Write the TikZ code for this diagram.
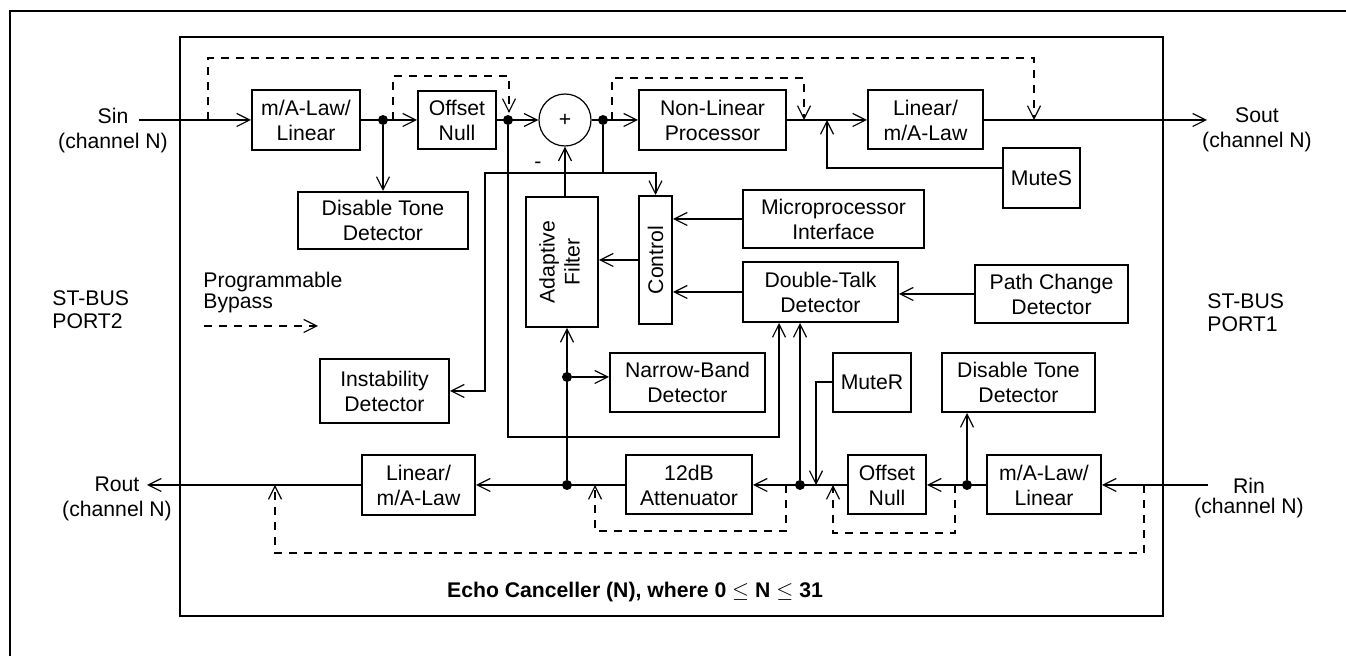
\documentclass[tikz,border=0pt]{standalone}
\usepackage{fontspec}
\setmainfont{Liberation Sans}
\usetikzlibrary{arrows.meta, positioning}

\tikzset{
  blk/.style={draw, line width=1pt, inner sep=0pt, align=center},
  sig/.style={line width=1pt, ->},
  bypass/.style={line width=1pt, dash pattern=on 4pt off 3.5pt, ->},
  dot/.style={circle, fill, inner sep=0pt, minimum size=5pt},
  lbl/.style={inner sep=0pt, align=center},
}

\begin{document}
\begin{tikzpicture}[x=0.5pt, y=-0.5pt, font=\fontsize{10.6}{12.5}\selectfont,
    >={Straight Barb[length=6.5pt, width=6.5pt, line width=0.6pt]}]
\useasboundingbox (0,0) rectangle (1346,656);

% Frames
\draw[line width=1pt] (1346,11) -- (9.5,11) -- (9.5,656);
\draw[line width=1pt] (180,37) rectangle (1163,616);

% Send path (Sin -> Sout)
\node[blk, minimum width=54pt, minimum height=30pt] (mal1) at (306,120) {m/A-Law/\\Linear};
\node[blk, minimum width=39pt, minimum height=29pt] (off1) at (457,120) {Offset\\Null};
\node[circle, draw, line width=0.6pt, minimum size=26pt, inner sep=0pt] (sum) at (565,120) {+};
\node[blk, minimum width=73.5pt, minimum height=30pt] (nlp) at (712.5,120) {Non-Linear\\Processor};
\node[blk, minimum width=57.5pt, minimum height=29.5pt] (lin1) at (925.5,120) {Linear/\\m/A-Law};
\node[blk, minimum width=38.5pt, minimum height=30pt] (mutes) at (1041.5,178) {MuteS};
\node[blk, minimum width=85pt, minimum height=28.5pt] (dtd1) at (383,220.5) {Disable Tone\\Detector};

% Middle blocks
\node[blk, minimum width=36pt, minimum height=65pt] (af) at (562,262)
  {\rotatebox{90}{\begin{tabular}{@{}c@{}}Adaptive\\Filter\end{tabular}}};
\node[blk, minimum width=16.5pt, minimum height=64pt] (ctrl) at (655.5,260)
  {\rotatebox{90}{Control}};
\node[blk, minimum width=90.5pt, minimum height=29pt] (mpi) at (833.5,219) {Microprocessor\\Interface};
\node[blk, minimum width=77.5pt, minimum height=30pt] (dtk) at (820.5,292) {Double-Talk\\Detector};
\node[blk, minimum width=76.5pt, minimum height=29pt] (pcd) at (1051.5,294) {Path Change\\Detector};
\node[blk, minimum width=64.5pt, minimum height=32pt] (inst) at (384.5,391) {Instability\\Detector};
\node[blk, minimum width=77.5pt, minimum height=29.5pt] (nbd) at (687.5,382.5) {Narrow-Band\\Detector};
\node[blk, minimum width=39pt, minimum height=29.5pt] (muter) at (872,382.5) {MuteR};
\node[blk, minimum width=76.5pt, minimum height=29.5pt] (dtd2) at (1018.5,382.5) {Disable Tone\\Detector};

% Receive path (Rin -> Rout)
\node[blk, minimum width=56.5pt, minimum height=30pt] (lin2) at (418.5,485) {Linear/\\m/A-Law};
\node[blk, minimum width=63pt, minimum height=29.5pt] (att) at (689,485) {12dB\\Attenuator};
\node[blk, minimum width=39pt, minimum height=29.5pt] (off2) at (887,485) {Offset\\Null};
\node[blk, minimum width=57pt, minimum height=29.5pt] (mal2) at (1044,485) {m/A-Law/\\Linear};

% Junctions
\node[dot] (d1) at (383,120) {};
\node[dot] (d2) at (508,120) {};
\node[dot] (d3) at (603,120) {};
\node[dot] (d4) at (567,377) {};
\node[dot] (d5) at (567,485) {};
\node[dot] (d6) at (800,485) {};
\node[dot] (d7) at (967,485) {};

% Free ends and corners
\coordinate (sin) at (139,120);
\coordinate (sout) at (1207,120);
\coordinate (rin) at (1208,485);
\coordinate (rout) at (147,485);
\coordinate (nlpout) at (827,120);
\coordinate (tap) at (603,173);
\coordinate (ctl) at (485,173);
\coordinate (fb) at (779,437);
\coordinate (mr) at (816,485);

% Labels
\node[lbl] (sinlbl) at (113,130.5) {Sin\\(channel N)};
\node[lbl] (soutlbl) at (1257,130) {Sout\\(channel N)};
\node[lbl, font=\fontsize{10.6}{10}\selectfont] (rinlbl) at (1249,498) {Rin\\(channel N)};
\node[lbl] (routlbl) at (117,499) {Rout\\(channel N)};
\node[lbl, anchor=west, align=left, font=\fontsize{10.6}{11.5}\selectfont] (port2) at (52,309.5) {ST-BUS\\PORT2};
\node[lbl, anchor=west, align=left, font=\fontsize{10.6}{11.5}\selectfont] (port1) at (1207,312.5) {ST-BUS\\PORT1};
\node[lbl, anchor=west, align=left, font=\fontsize{10.6}{10.5}\selectfont] (prog) at (203,292.5) {Programmable\\Bypass};
\node[lbl, anchor=base, font=\fontsize{10.6}{12.5}\selectfont\bfseries] (title) at (635,598) {Echo Canceller (N), where 0 $\leq$ N $\leq$ 31};
\node[lbl] (minus) at (538,165) {-};

% Send path connectors
\draw[sig] (sin) -- (mal1.west);
\draw[sig] (mal1.east) -- (off1.west);
\draw[sig] (d1) -- (dtd1.north);
\draw[sig] (off1.east) -- (sum.west);
\draw[sig] (sum.east) -- (nlp.west);
\draw[sig] (nlp.east) -- (lin1.west);
\draw[sig] (lin1.east) -- (sout);
\draw[sig] ([yshift=5pt]mutes.west) -| (nlpout);

% Canceller connectors
\draw[sig] (af.north -| sum.south) -- (sum.south);
\draw[line width=0.6pt] (d3) -- (tap);
\draw[sig, <->] (inst.east) -| (ctl) -| (ctrl.north);
\draw[sig] (d2) |- (fb) -- (fb |- dtk.south);
\draw[sig] (d5) -- (d5 |- af.south);
\draw[sig] (d4) -- (d4 -| nbd.west);
\draw[sig] (ctrl.west) -- (ctrl.west -| af.east);
\draw[sig] (mpi.west) -- (mpi.west -| ctrl.east);
\draw[sig] (dtk.west) -- (dtk.west -| ctrl.east);
\draw[sig] (pcd.west) -- (pcd.west -| dtk.east);
\draw[sig] (muter.west) -| (mr);
\draw[sig] (d6) -- (d6 |- dtk.south);
\draw[sig] (d7) -- (d7 |- dtd2.south);

% Receive path connectors
\draw[sig] (rin) -- (mal2.east);
\draw[sig] (mal2.west) -- (off2.east);
\draw[sig] (off2.west) -- (att.east);
\draw[sig] (att.west) -- (lin2.east);
\draw[sig] (lin2.west) -- (rout);

% Programmable bypass
\draw[bypass] (208,120) |- (1034,58) -- (1034,120);
\draw[bypass] (393,120) |- (509,76) -- (509,113);
\draw[bypass] (612,120) |- (804,78) -- (804,120);
\draw[bypass] (1144,485) |- (275,553) -- (275,485);
\draw[bypass] (786,485) |- (595,531) -- (595,485);
\draw[bypass] (955,485) |- (833,533) -- (833,485);
\draw[bypass] (204,326) -- (318,326);
\end{tikzpicture}
\end{document}
